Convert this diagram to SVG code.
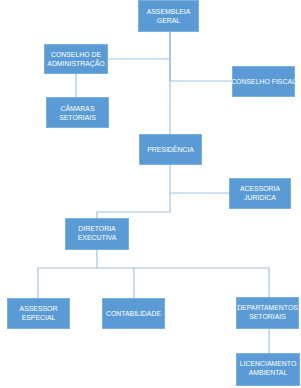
<svg xmlns="http://www.w3.org/2000/svg" width="301" height="388" viewBox="0 0 301 388">
<style>
.box{fill:#5B9BD5;stroke:#7BAFE0;stroke-width:1}
.t{font-family:"Liberation Sans",Arial,sans-serif;font-size:6.9px;fill:#FFFFFF;text-anchor:middle}
.c{fill:none;stroke:#9DC3E6;stroke-width:1.2}
.d{fill:none;stroke:#6A9FD4;stroke-width:1.2}
</style>
<rect width="301" height="388" fill="#FFFFFF"/>
<g id="connectors">
<path class="d" d="M170 31V81"/>
<path class="c" d="M170 81V134"/>
<path class="c" d="M107 59H170"/>
<path class="c" d="M170 81H232"/>
<path class="c" d="M76 73V97"/>
<path class="c" d="M170 164V212H97V218"/>
<path class="c" d="M170 193H229"/>
<path class="c" d="M97 249V268"/>
<path class="c" d="M38 298V268H269V297"/>
<path class="c" d="M134 268V298"/>
<path class="c" d="M269 328V353"/>
</g>
<g id="assembleia">
<rect class="box" x="138.5" y="0.5" width="60" height="31"/>
<text class="t" x="168.5" y="14">ASSEMBLEIA</text>
<text class="t" x="168.5" y="22.5">GERAL</text>
</g>
<g id="conselho-adm">
<rect class="box" x="44.5" y="44.5" width="63" height="29"/>
<text class="t" x="76" y="57">CONSELHO  DE</text>
<text class="t" x="76" y="65.5">ADMINISTRAÇÃO</text>
</g>
<g id="camaras">
<rect class="box" x="46.5" y="97.5" width="62" height="30"/>
<text class="t" x="77.5" y="111">CÂMARAS</text>
<text class="t" x="77.5" y="119.5">SETORIAIS</text>
</g>
<g id="conselho-fiscal">
<rect class="box" x="232.5" y="66.5" width="62" height="30"/>
<text class="t" x="263.5" y="84">CONSELHO  FISCAL</text>
</g>
<g id="presidencia">
<rect class="box" x="139.5" y="134.5" width="62" height="30"/>
<text class="t" x="170.5" y="152">PRESIDÊNCIA</text>
</g>
<g id="acessoria">
<rect class="box" x="229.5" y="178.5" width="61" height="30"/>
<text class="t" x="260" y="191">ACESSORIA</text>
<text class="t" x="260" y="200">JURIDICA</text>
</g>
<g id="diretoria">
<rect class="box" x="65.5" y="218.5" width="63" height="31"/>
<text class="t" x="97" y="231">DIRETORIA</text>
<text class="t" x="97" y="240">EXECUTIVA</text>
</g>
<g id="assessor">
<rect class="box" x="7.5" y="298.5" width="62" height="30"/>
<text class="t" x="38.5" y="310.5">ASSESSOR</text>
<text class="t" x="38.5" y="319.5">ESPECIAL</text>
</g>
<g id="contabilidade">
<rect class="box" x="102.5" y="298.5" width="62" height="30"/>
<text class="t" x="133.5" y="316">CONTABILIDADE</text>
</g>
<g id="departamentos">
<rect class="box" x="236.5" y="297.5" width="62" height="31"/>
<text class="t" x="267.5" y="310">DEPARTAMENTOS</text>
<text class="t" x="267.5" y="319">SETORIAIS</text>
</g>
<g id="licenciamento">
<rect class="box" x="236.5" y="353.5" width="63" height="32"/>
<text class="t" x="268" y="366">LICENCIAMENTO</text>
<text class="t" x="268" y="375">AMBIENTAL</text>
</g>
</svg>
